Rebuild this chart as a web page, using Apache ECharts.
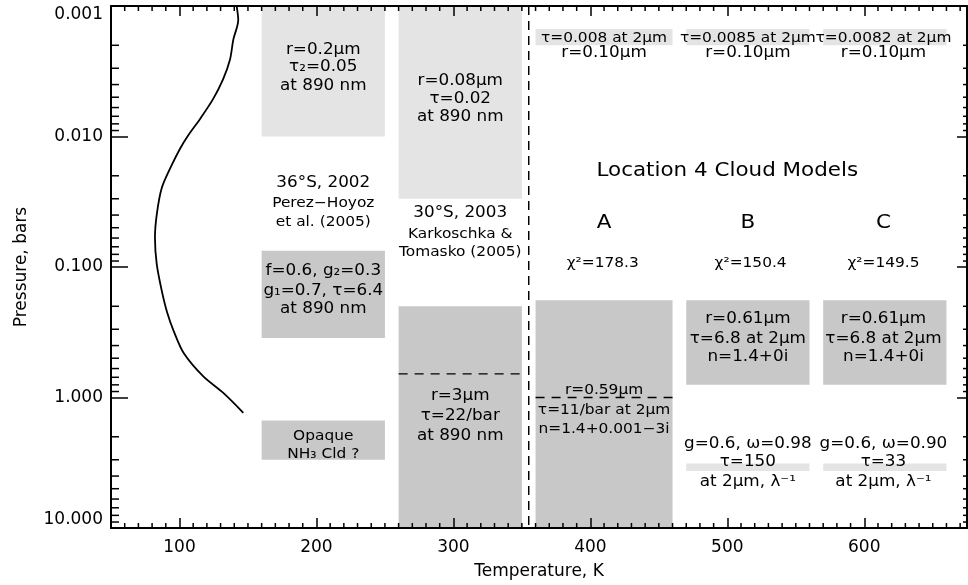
<!DOCTYPE html>
<html><head><meta charset="utf-8">
<script src="https://cdn.jsdelivr.net/npm/echarts@6/dist/echarts.min.js"></script>
<style>html,body{margin:0;padding:0;background:#fff}#c{width:968px;height:585px}</style>
</head><body><div id="c"></div>
<script>
// ---- data ----
const xMin = 50, xMax = 675, pMin = 0.001, pMax = 10;
const xTickValues = [100, 200, 300, 400, 500, 600];
const xMinorTicks = [60,70,80,90,110,120,130,140,150,160,170,180,190,210,220,230,240,250,260,270,280,290,
  310,320,330,340,350,360,370,380,390,410,420,430,440,450,460,470,480,490,510,520,530,540,550,560,570,580,590,
  610,620,630,640,650,660,670];
const yMinorTicks = [0.002,0.003,0.004,0.005,0.006,0.007,0.008,0.009,0.02,0.03,0.04,0.05,0.06,0.07,0.08,0.09,
  0.2,0.3,0.4,0.5,0.6,0.7,0.8,0.9,2,3,4,5,6,7,8,9];

// temperature profile (K, bar)
const profileT = [141.8, 142.9, 139.3, 136.9, 131.8, 124.5, 115.0, 106.2, 100.4, 94.3, 87.0, 83.4, 82.1, 83.4, 87.0, 90.9, 96.0, 103.3, 117.4, 132.0, 146.6];
const profileP = [0.00101, 0.00128, 0.00181, 0.00257, 0.00365, 0.00517, 0.00733, 0.00986, 0.0124, 0.0166, 0.0249, 0.0397, 0.0597, 0.0951, 0.151, 0.221, 0.314, 0.461, 0.690, 0.923, 1.31];

// cloud layers [Tleft, Tright, Ptop, Pbottom]
const lightLayers = [[160,250,0.001,0.01],[260,350,0.001,0.03],[360,460,0.0015,0.002],[470,560,0.0015,0.002],[570,660,0.0015,0.002],[470,560,3.2,3.65],[570,660,3.2,3.65]];
const darkLayers = [[160,250,0.075,0.35],[160,250,1.5,3.0],[260,350,0.2,10],[360,460,0.18,10],[470,560,0.18,0.8],[570,660,0.18,0.8]];
const dividerT = 355;
const baseLines = [[260,350,0.66],[360,460,1.0]];

// annotations [T, P, text]
const headingTexts = [[500,0.0185,'Location 4 Cloud Models'],[410,0.046,'A'],[515,0.046,'B'],[614,0.046,'C']];
const mainTexts = [
  [205,0.00216,'r=0.2μm'],[205,0.00296,'τ₂=0.05'],[205,0.00412,'at 890 nm'],
  [305,0.00378,'r=0.08μm'],[305,0.00517,'τ=0.02'],[305,0.00708,'at 890 nm'],
  [205,0.02285,'36°S, 2002'],[305,0.0386,'30°S, 2003'],
  [205,0.108,'f=0.6, g₂=0.3'],[205,0.1535,'g₁=0.7, τ=6.4'],[205,0.210,'at 890 nm'],
  [305,0.977,'r=3μm'],[305,1.387,'τ=22/bar'],[305,1.968,'at 890 nm'],
  [410,0.00229,'r=0.10μm'],[515,0.00229,'r=0.10μm'],[614,0.00229,'r=0.10μm'],
  [515,0.2503,'r=0.61μm'],[515,0.3548,'τ=6.8 at 2μm'],[515,0.4865,'n=1.4+0i'],
  [614,0.2503,'r=0.61μm'],[614,0.3548,'τ=6.8 at 2μm'],[614,0.4865,'n=1.4+0i'],
  [515,2.27,'g=0.6, ω=0.98'],[515,3.1,'τ=150'],[515,4.47,'at 2μm, λ⁻¹'],
  [614,2.27,'g=0.6, ω=0.90'],[614,3.1,'τ=33'],[614,4.47,'at 2μm, λ⁻¹']
];
const smallTexts = [
  [205,0.0328,'Perez−Hoyoz'],[205,0.0451,'et al. (2005)'],
  [305,0.0564,'Karkoschka &'],[305,0.0776,'Tomasko (2005)'],
  [205,1.968,'Opaque'],[205,2.74,'NH₃ Cld ?'],
  [410,0.881,'r=0.59μm'],[410,1.25,'τ=11/bar at 2μm'],[410,1.742,'n=1.4+0.001−3i'],
  [410,0.00178,'τ=0.008 at 2μm'],[515,0.00178,'τ=0.0085 at 2μm'],[614,0.00178,'τ=0.0082 at 2μm'],
  [409,0.094,'χ²=178.3'],[517,0.094,'χ²=150.4'],[614,0.094,'χ²=149.5']
];

// ---- chart ----
const FONT = '"DejaVu Sans", sans-serif';
const chart = echarts.init(document.getElementById('c'), null, {renderer: 'canvas'});

function rectSeries(list, color) {
  return {
    type: 'custom', coordinateSystem: 'cartesian2d', z: 1, silent: true, clip: false,
    data: list.map(b => [b[0], b[2]]),
    renderItem: (params, api) => {
      const b = list[params.dataIndex];
      const p1 = api.coord([b[0], b[2]]);
      const p2 = api.coord([b[1], b[3]]);
      return {type: 'rect', shape: {x: Math.min(p1[0], p2[0]), y: Math.min(p1[1], p2[1]),
        width: Math.abs(p2[0] - p1[0]), height: Math.abs(p2[1] - p1[1])}, style: {fill: color}};
    }
  };
}
function textSeries(list, size, stretch) {
  return {
    type: 'custom', coordinateSystem: 'cartesian2d', z: 8, silent: true, clip: false,
    data: list.map(t => [t[0], t[1]]),
    renderItem: (params, api) => {
      const t = list[params.dataIndex];
      const p = api.coord([t[0], t[1]]);
      return {type: 'text', x: p[0], y: p[1], scaleX: stretch, scaleY: 1,
        style: {text: t[2], fill: '#000', align: 'center',
        verticalAlign: 'middle', fontSize: size, fontFamily: FONT}};
    }
  };
}
// minor ticks: side 0 bottom, 1 top, 2 left, 3 right
const minorItems = [];
xMinorTicks.forEach(v => { minorItems.push([v, pMax, 0]); minorItems.push([v, pMin, 1]); });
yMinorTicks.forEach(v => { minorItems.push([xMin, v, 2]); minorItems.push([xMax, v, 3]); });

const option = {
  animation: false,
  backgroundColor: '#fff',
  grid: {left: 111, right: 1, top: 6, bottom: 52},
  xAxis: [{
    type: 'value', min: xMin, max: xMax, position: 'bottom', z: 6,
    name: 'Temperature, K', nameLocation: 'middle', nameGap: 35,
    nameTextStyle: {fontSize: 17, fontFamily: FONT, color: '#000'},
    axisLine: {lineStyle: {color: '#000', width: 2}},
    axisTick: {inside: true, length: 10, customValues: xTickValues, lineStyle: {color: '#000', width: 1.5}},
    axisLabel: {customValues: xTickValues, margin: 11, fontSize: 17, fontFamily: FONT, color: '#000'},
    splitLine: {show: false}
  }, {
    type: 'value', min: xMin, max: xMax, position: 'top', z: 6,
    axisLine: {lineStyle: {color: '#000', width: 2}},
    axisTick: {inside: true, length: 10, customValues: xTickValues, lineStyle: {color: '#000', width: 1.5}},
    axisLabel: {show: false}, splitLine: {show: false}
  }],
  yAxis: [{
    type: 'log', logBase: 10, min: pMin, max: pMax, inverse: true, position: 'left', z: 6,
    name: 'Pressure, bars', nameLocation: 'middle', nameGap: 81,
    nameTextStyle: {fontSize: 17, fontFamily: FONT, color: '#000'},
    axisLine: {lineStyle: {color: '#000', width: 2}},
    axisTick: {inside: true, length: 17, lineStyle: {color: '#000', width: 1.5}},
    axisLabel: {margin: 8, fontSize: 17, fontFamily: FONT, color: '#000',
      formatter: v => Number(v).toFixed(3),
      verticalAlignMinLabel: 'top', verticalAlignMaxLabel: 'bottom'},
    splitLine: {show: false}
  }, {
    type: 'log', logBase: 10, min: pMin, max: pMax, inverse: true, position: 'right', z: 6,
    axisLine: {lineStyle: {color: '#000', width: 2}},
    axisTick: {inside: true, length: 10, lineStyle: {color: '#000', width: 1.5}},
    axisLabel: {show: false}, splitLine: {show: false}
  }],
  series: [
    rectSeries(lightLayers, '#e4e4e4'),
    rectSeries(darkLayers, '#c8c8c8'),
    {
      type: 'line', z: 5, silent: true, symbol: 'none', smooth: 0.3,
      data: profileT.map((t, i) => [t, profileP[i]]),
      lineStyle: {color: '#000', width: 1.8}
    },
    {
      type: 'line', z: 5, silent: true, symbol: 'none',
      data: [[dividerT, pMin], [dividerT, pMax]],
      lineStyle: {color: '#000', width: 1.5, type: [9, 6]}
    },
    ...baseLines.map(b => ({
      type: 'line', z: 5, silent: true, symbol: 'none',
      data: [[b[0], b[2]], [b[1], b[2]]],
      lineStyle: {color: '#000', width: 1.3, type: [9, 7]}
    })),
    textSeries(headingTexts, 19.5, 1.1),
    textSeries(mainTexts, 15, 1.12),
    textSeries(smallTexts, 14, 1.1),
    {
      type: 'custom', coordinateSystem: 'cartesian2d', z: 7, silent: true, clip: false,
      data: minorItems,
      renderItem: (params, api) => {
        const it = minorItems[params.dataIndex];
        const p = api.coord([it[0], it[1]]);
        let x2 = p[0], y2 = p[1];
        if (it[2] === 0) y2 -= 5; else if (it[2] === 1) y2 += 5;
        else if (it[2] === 2) x2 += 8; else x2 -= 4;
        return {type: 'line', shape: {x1: p[0], y1: p[1], x2: x2, y2: y2},
          style: {stroke: '#000', lineWidth: 1.5}};
      }
    }
  ]
};
chart.setOption(option);
</script></body></html>
